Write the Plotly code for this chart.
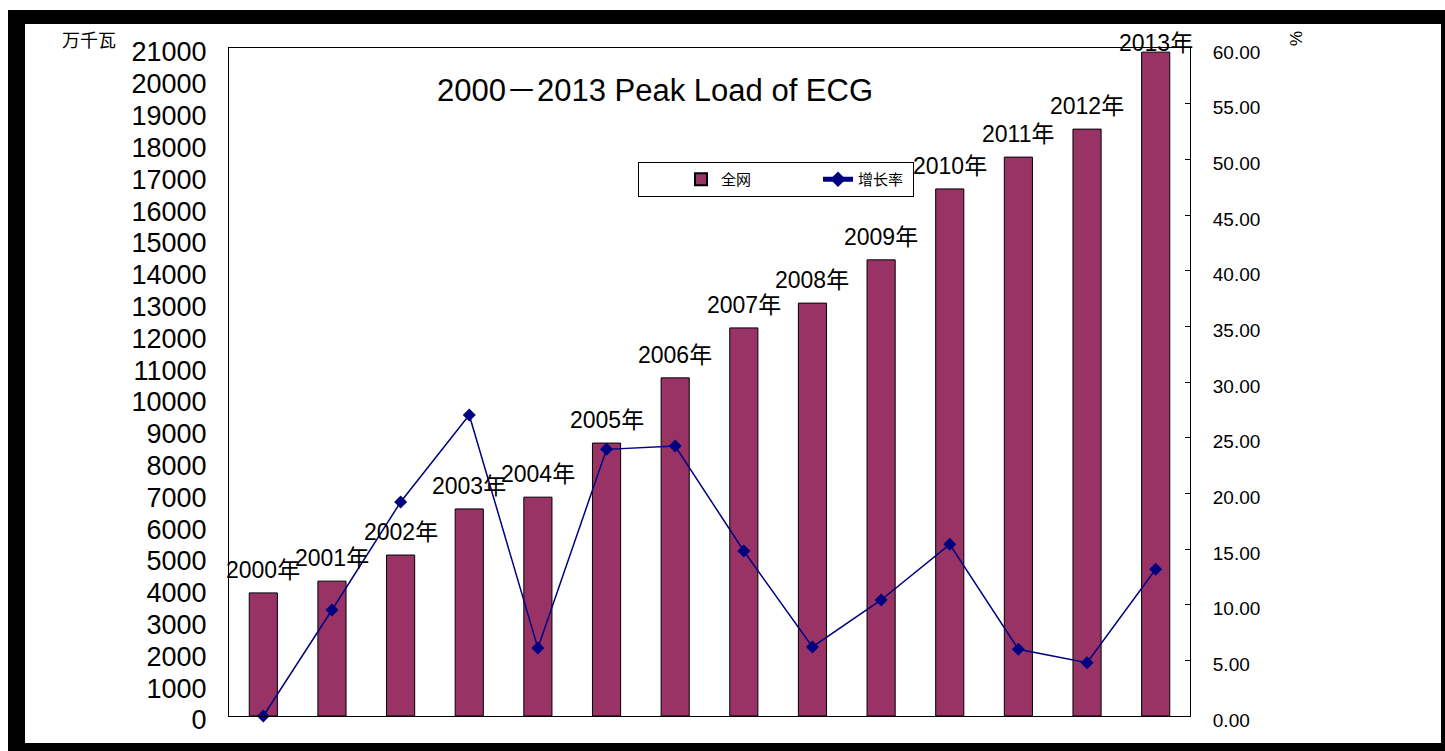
import plotly.graph_objects as go

years = ["2000年", "2001年", "2002年", "2003年", "2004年", "2005年", "2006年",
         "2007年", "2008年", "2009年", "2010年", "2011年", "2012年", "2013年"]
peak_load = [3870, 4240, 5060, 6510, 6880, 8580, 10630,
             12200, 12980, 14340, 16570, 17570, 18450, 20870]
growth = [0.0, 9.52, 19.22, 27.04, 6.10, 23.95, 24.25,
          14.82, 6.20, 10.42, 15.42, 5.99, 4.79, 13.18]
left_ticks = list(range(0, 21001, 1000))
right_ticks = [i * 5 for i in range(13)]

# plot area in pixels
L, R, T, B = 229, 1190, 48, 716
W, H = 1445, 751
pw, ph = R - L, B - T


def px(x):
    return (x - L) / pw


def py(y):
    return (B - y) / ph


LATIN = "Liberation Sans, Arial, Noto Sans CJK SC"
CJK = "Noto Sans CJK SC"

fig = go.Figure()
fig.add_trace(go.Bar(
    x=years, y=peak_load, name="全网", yaxis="y",
    marker=dict(color="#993366", line=dict(color="#000000", width=1)),
    width=0.41,
))
fig.add_trace(go.Scatter(
    x=years, y=growth, name="增长率", yaxis="y2", mode="lines+markers",
    line=dict(color="#000080", width=1.5),
    marker=dict(symbol="diamond", size=10, color="#000080"),
    cliponaxis=False,
))

shapes = [
    dict(type="rect", xref="paper", yref="paper", layer="below",
         x0=px(8), x1=px(1460), y0=py(770), y1=py(10),
         fillcolor="#000000", line=dict(width=0)),
    dict(type="rect", xref="paper", yref="paper", layer="below",
         x0=px(25), x1=px(1441), y0=py(743), y1=py(24),
         fillcolor="#ffffff", line=dict(width=0)),
]

annotations = []
shifts = [8] * (len(years) - 1) + [-6]
for yr, v, s in zip(years, peak_load, shifts):
    annotations.append(dict(
        x=yr, y=v, xref="x", yref="y", text=yr, showarrow=False,
        yanchor="bottom", xanchor="center", yshift=s,
        font=dict(family=LATIN, size=23, color="#000000"),
    ))
annotations += [
    dict(x=px(655), y=py(90), xref="paper", yref="paper",
         text="2000－2013 Peak Load of ECG", showarrow=False,
         xanchor="center", yanchor="middle",
         font=dict(family=LATIN, size=31, color="#000000")),
    dict(x=px(89), y=py(39), xref="paper", yref="paper", text="万千瓦",
         showarrow=False, xanchor="center", yanchor="middle",
         font=dict(family=CJK, size=18, color="#000000")),
    dict(x=px(1295), y=py(38), xref="paper", yref="paper", text="%",
         showarrow=False, xanchor="center", yanchor="middle", textangle=90,
         font=dict(family=LATIN, size=17, color="#000000")),
]

fig.update_layout(
    width=W, height=H,
    margin=dict(l=L, r=W - R, t=T, b=H - B, pad=0),
    paper_bgcolor="#ffffff", plot_bgcolor="rgba(0,0,0,0)",
    showlegend=True,
    legend=dict(orientation="h", x=px(638), y=py(162), xanchor="left",
                yanchor="top", bgcolor="#ffffff", bordercolor="#000000",
                borderwidth=1, font=dict(family=CJK, size=15, color="#000000"),
                entrywidth=50, entrywidthmode="pixels", indentation=42,
                itemsizing="constant"),
    xaxis=dict(range=[-0.5, len(years) - 0.5], showticklabels=False,
               showgrid=False, zeroline=False,
               showline=True, linecolor="#000000", linewidth=1, mirror=True,
               ticks=""),
    yaxis=dict(range=[0, 21000], tickvals=left_ticks, tickformat="d",
               showgrid=False, zeroline=False, showline=True,
               linecolor="#000000", linewidth=1, mirror=True, ticks="",
               ticklabelstandoff=16, ticklabelshift=4,
               tickfont=dict(family=LATIN, size=27, color="#000000")),
    yaxis2=dict(range=[0, 60], tickvals=right_ticks, tickformat=".2f",
                overlaying="y", side="right", showgrid=False, zeroline=False,
                showline=True, linecolor="#000000", linewidth=1,
                ticks="inside", ticklen=5, tickcolor="#000000",
                ticklabelstandoff=18, ticklabelshift=4,
                tickfont=dict(family=LATIN, size=19, color="#000000")),
    shapes=shapes,
    annotations=annotations,
)

fig.write_html("out.html")
